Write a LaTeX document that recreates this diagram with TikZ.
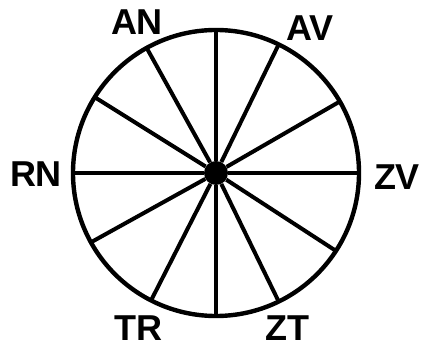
\documentclass[tikz,border=0pt]{standalone}
\usepackage{fontspec}
\setmainfont{Liberation Sans}
\usetikzlibrary{positioning}

\begin{document}
\begin{tikzpicture}[x=1pt, y=1pt,
  rim/.style={line width=4.4pt},
  spoke/.style={line width=4pt},
  hub/.style={circle, fill=black, minimum size=24pt, inner sep=0pt},
  lbl/.style={font=\fontsize{36}{36}\selectfont\bfseries, inner sep=0pt}
]
\useasboundingbox (0,0) rectangle (426,348);
\node[hub] (hub) at (216,175) {};
\draw[rim] (hub.center) circle[radius=143];
% spokes out to the rim
\foreach \a [count=\i] in {0,30,64,90,119,148,180,209,243,270,296,327}
  \coordinate (r\i) at ([shift={(\a:143)}]hub.center);
\foreach \i in {1,...,12}
  \draw[spoke] (hub) -- (r\i);
% labels
\node[lbl] (an) at (137,326) {AN};
\node[lbl] (av) at (310,320) {AV};
\node[lbl] (rn) at (36,174) {RN};
\node[lbl] (zv) at (397,171) {ZV};
\node[lbl] (tr) at (138,20) {TR};
\node[lbl] (zt) at (287,20) {ZT};
\end{tikzpicture}
\end{document}
